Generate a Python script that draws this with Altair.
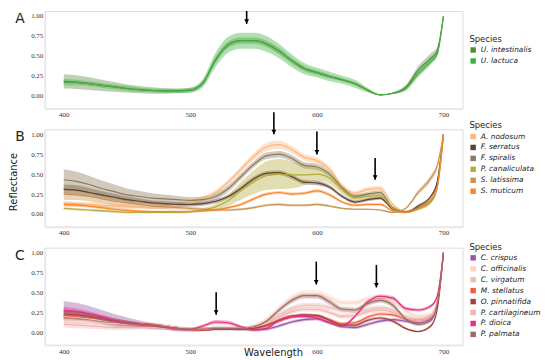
import altair as alt
import pandas as pd

WL = [400, 410, 420, 430, 440, 450, 460, 470, 480, 490, 500, 510, 520, 530, 540,
      550, 560, 570, 580, 590, 600, 610, 620, 630, 640, 650, 660, 670, 680, 690, 695, 700]
TICKS_X = [400, 500, 600, 700]
TICKS_Y = [0, 0.25, 0.5, 0.75, 1.0]

# ---------------- Panel A ----------------
A_SPECIES = ["U. intestinalis", "U. lactuca"]
A_COLORS = ["#5b8a3c", "#3fb03f"]
A_MEAN = {
    "U. intestinalis": [.18, .17, .15, .13, .11, .09, .075, .065, .06, .06, .07, .16, .45, .64, .69,
                        .69, .65, .56, .44, .34, .29, .24, .20, .15, .07, .01, .03, .10, .32, .47, .56, 1.0],
    "U. lactuca": [.17, .165, .15, .13, .11, .09, .075, .065, .06, .06, .07, .16, .45, .64, .69,
                   .69, .65, .56, .44, .34, .29, .24, .20, .15, .07, .01, .03, .09, .27, .43, .52, 1.0],
}
A_SD = {
    "U. intestinalis": [.09, .085, .08, .07, .06, .05, .045, .04, .035, .03, .03, .03, .04, .04, .04,
                        .04, .04, .04, .035, .03, .03, .025, .02, .02, .015, .005, .01, .03, .05, .06, .05, 0],
    "U. lactuca": [.04, .035, .03, .03, .03, .03, .025, .025, .025, .025, .03, .05, .09, .10, .10,
                   .10, .10, .09, .08, .07, .06, .06, .05, .05, .03, .005, .01, .03, .04, .04, .03, 0],
}
A_ARROWS_WL = [544.5]
A_ARROWS_TOP = [1.0625]
A_ARROWS_TIP = [0.90]

# ---------------- Panel B ----------------
B_SPECIES = ["A. nodosum", "F. serratus", "F. spiralis", "P. canaliculata", "S. latissima", "S. muticum"]
B_COLORS = ["#fcb57c", "#5e4233", "#8d7b58", "#b4ad3c", "#c8944f", "#f7862c"]
B_MEAN = {
    "A. nodosum": [.13, .125, .12, .11, .10, .09, .085, .085, .09, .11, .14, .19, .27, .40, .56,
                   .72, .84, .87, .81, .71, .67, .56, .35, .26, .31, .32, .12, .03, .10, .22, .38, 1.0],
    "F. serratus": [.31, .30, .27, .24, .21, .18, .16, .14, .13, .12, .12, .13, .16, .22, .32,
                    .44, .51, .52, .47, .40, .39, .34, .22, .15, .18, .20, .06, .02, .10, .22, .40, 1.0],
    "F. spiralis": [.43, .41, .37, .32, .28, .24, .22, .20, .19, .18, .17, .18, .22, .32, .47,
                    .62, .73, .75, .70, .61, .59, .50, .33, .22, .25, .27, .08, .03, .08, .17, .34, 1.0],
    "P. canaliculata": [.07, .06, .05, .04, .03, .02, .02, .02, .02, .02, .03, .05, .09, .17, .29,
                        .40, .48, .50, .49, .49, .50, .45, .30, .20, .22, .23, .07, .02, .06, .15, .32, 1.0],
    "S. latissima": [.25, .24, .22, .19, .16, .14, .12, .10, .09, .08, .07, .06, .05, .05, .06,
                     .08, .11, .12, .11, .11, .12, .10, .07, .06, .06, .05, .02, .07, .27, .45, .60, 1.0],
    "S. muticum": [.12, .115, .10, .08, .06, .045, .035, .03, .03, .03, .03, .04, .05, .08, .12,
                   .19, .25, .27, .25, .26, .29, .24, .15, .11, .12, .12, .04, .02, .07, .17, .34, 1.0],
}
B_SD = {
    "A. nodosum": [.03, .03, .03, .03, .03, .03, .025, .025, .025, .025, .025, .03, .03, .035, .04,
                   .045, .05, .05, .045, .04, .04, .035, .03, .03, .03, .03, .015, .01, .015, .02, .02, 0],
    "F. serratus": [.06, .06, .055, .05, .045, .04, .035, .03, .03, .03, .025, .025, .025, .025, .03,
                    .03, .03, .03, .03, .03, .03, .025, .02, .02, .02, .02, .01, .01, .015, .02, .02, 0],
    "F. spiralis": [.13, .12, .11, .10, .09, .08, .07, .06, .05, .045, .04, .04, .04, .04, .04,
                    .04, .04, .04, .04, .04, .04, .035, .03, .025, .025, .025, .015, .01, .015, .02, .02, 0],
    "P. canaliculata": [.015, .015, .015, .015, .015, .015, .015, .015, .015, .015, .02, .025, .04, .07, .11,
                        .15, .18, .19, .17, .13, .08, .07, .05, .04, .04, .04, .02, .01, .015, .02, .02, 0],
    "S. latissima": [.07, .065, .06, .055, .05, .045, .04, .035, .03, .025, .02, .02, .015, .015, .015,
                     .015, .015, .015, .015, .015, .015, .015, .01, .01, .01, .01, .01, .01, .03, .04, .04, 0],
    "S. muticum": [.025, .025, .02, .02, .02, .015, .015, .015, .015, .015, .01, .01, .015, .015, .02,
                   .02, .02, .02, .02, .02, .02, .02, .015, .015, .015, .015, .01, .01, .015, .02, .02, 0],
}
B_ARROWS_WL = [566, 600, 646]
B_ARROWS_TOP = [1.275, 1.034, 0.704]
B_ARROWS_TIP = [1.00, 0.746, 0.429]

# ---------------- Panel C ----------------
C_SPECIES = ["C. crispus", "C. officinalis", "C. virgatum", "M. stellatus", "O. pinnatifida",
             "P. cartilagineum", "P. dioica", "P. palmata"]
C_COLORS = ["#9c56a6", "#f8d6c4", "#e8c0b4", "#f3603f", "#a8403f", "#f5b2b0", "#e8307e", "#9f6a6a"]
C_MEAN = {
    "C. crispus": [.27, .26, .23, .19, .15, .12, .10, .08, .06, .04, .03, .04, .05, .05, .04,
                   .03, .04, .08, .13, .16, .17, .12, .07, .06, .10, .14, .16, .14, .12, .17, .35, 1.0],
    "C. officinalis": [.20, .19, .17, .15, .13, .11, .10, .09, .08, .06, .04, .04, .05, .05, .05,
                       .08, .16, .30, .43, .49, .49, .43, .37, .37, .42, .44, .39, .27, .20, .23, .40, 1.0],
    "C. virgatum": [.16, .15, .14, .12, .11, .10, .09, .08, .07, .05, .04, .04, .05, .05, .05,
                    .07, .12, .22, .30, .34, .34, .31, .27, .26, .29, .31, .28, .20, .16, .20, .38, 1.0],
    "M. stellatus": [.21, .20, .18, .16, .13, .11, .10, .09, .07, .05, .03, .03, .04, .04, .04,
                     .05, .08, .14, .19, .21, .21, .16, .11, .12, .19, .23, .22, .17, .15, .20, .36, 1.0],
    "O. pinnatifida": [.23, .22, .20, .17, .14, .12, .10, .09, .07, .05, .03, .03, .04, .04, .04,
                       .05, .09, .15, .20, .22, .21, .15, .09, .09, .15, .18, .14, .05, .01, .08, .28, 1.0],
    "P. cartilagineum": [.10, .09, .08, .07, .06, .06, .06, .06, .05, .04, .03, .04, .05, .05, .05,
                         .07, .11, .19, .26, .29, .29, .25, .20, .21, .26, .28, .25, .18, .15, .20, .38, 1.0],
    "P. dioica": [.28, .26, .23, .19, .15, .12, .10, .08, .06, .04, .04, .08, .13, .12, .07,
                  .03, .05, .15, .20, .20, .18, .12, .08, .20, .38, .45, .43, .30, .28, .33, .45, 1.0],
    "P. palmata": [.22, .21, .19, .16, .13, .11, .09, .08, .07, .05, .04, .04, .05, .05, .05,
                   .07, .14, .28, .40, .46, .46, .38, .29, .28, .36, .40, .34, .17, .10, .15, .35, 1.0],
}
C_SD = {
    "C. crispus": [.12, .11, .10, .09, .08, .065, .05, .04, .03, .025, .02, .02, .02, .02, .02,
                   .02, .02, .02, .02, .02, .02, .02, .02, .02, .02, .02, .02, .02, .02, .03, .03, 0],
    "C. officinalis": [.05, .05, .045, .04, .035, .03, .03, .03, .03, .025, .02, .02, .02, .02, .02,
                       .025, .03, .035, .04, .04, .04, .04, .035, .035, .035, .035, .03, .03, .03, .03, .03, 0],
    "C. virgatum": [.05, .045, .04, .035, .03, .03, .03, .03, .025, .02, .02, .02, .02, .02, .02,
                    .02, .025, .03, .03, .03, .03, .03, .03, .03, .03, .03, .03, .03, .03, .03, .03, 0],
    "M. stellatus": [.04, .04, .035, .03, .03, .025, .025, .02, .02, .02, .015, .015, .015, .015, .015,
                     .015, .02, .02, .02, .02, .02, .02, .02, .02, .02, .02, .02, .02, .02, .02, .02, 0],
    "O. pinnatifida": [.05, .05, .045, .04, .035, .03, .025, .02, .02, .02, .015, .015, .015, .015, .015,
                       .015, .02, .02, .02, .02, .02, .02, .02, .02, .02, .02, .02, .015, .01, .02, .02, 0],
    "P. cartilagineum": [.04, .04, .035, .03, .03, .03, .025, .025, .02, .02, .02, .02, .02, .02, .02,
                         .02, .02, .025, .03, .03, .03, .03, .03, .03, .03, .03, .03, .03, .03, .03, .03, 0],
    "P. dioica": [.04, .04, .035, .03, .03, .025, .025, .02, .02, .02, .015, .02, .025, .025, .02,
                  .015, .015, .02, .02, .02, .02, .02, .02, .02, .025, .025, .025, .02, .02, .02, .02, 0],
    "P. palmata": [.06, .055, .05, .045, .04, .035, .03, .03, .025, .02, .02, .02, .02, .02, .02,
                   .02, .025, .03, .035, .035, .035, .035, .03, .03, .03, .03, .03, .025, .02, .025, .025, 0],
}
C_ARROWS_WL = [520.4, 599.5, 647]
C_ARROWS_TOP = [0.504, 0.8875, 0.846]
C_ARROWS_TIP = [0.221, 0.60, 0.5625]

W, H = 420, 98
YDOM = [-0.16, 1.0625]
XDOM = [385, 715]


def long_frame(species, means, sds):
    rows = []
    for sp in species:
        for w, m, s in zip(WL, means[sp], sds[sp]):
            rows.append({"species": sp, "wl": w, "mean": m, "lo": m - s, "hi": m + s})
    return pd.DataFrame(rows)


def panel(species, colors, means, sds, letter, arr_wl, arr_top, arr_tip, legend_y, extra=None):
    df = long_frame(species, means, sds)
    xscale = alt.Scale(domain=XDOM, nice=False, zero=False)
    xaxis = alt.Axis(values=TICKS_X, title=None, labelFont="Liberation Serif",
                     labelFontSize=7, labelColor="#333", domainColor="#e8e8e8",
                     domainWidth=2, ticks=False, grid=False, labelPadding=2,
                     labelOverlap=False)
    yaxis = alt.Axis(values=TICKS_Y, format=".2f", title=None, labelFont="Liberation Serif",
                     labelFontSize=7, labelColor="#333", domainColor="#e8e8e8", domainWidth=2,
                     ticks=False, grid=False, labelPadding=2, labelOverlap=False,
                     labelBound=False, tickCount=5)
    yscale = alt.Scale(domain=YDOM, nice=False, zero=False)
    color = alt.Color("species:N", scale=alt.Scale(domain=species, range=colors),
                      legend=alt.Legend(title="Species", orient="none", legendX=427, legendY=legend_y,
                                        labelFontStyle="italic", labelFont="DejaVu Sans",
                                        labelFontSize=7.5, titleFont="DejaVu Sans", titleFontSize=8.5,
                                        titleFontWeight="normal", titleColor="#222", labelColor="#222",
                                        symbolType="square", symbolSize=30, symbolOpacity=1,
                                        symbolStrokeWidth=0, rowPadding=2, titlePadding=3))
    band = alt.Chart(df).mark_area(opacity=0.4, interpolate="monotone").encode(
        x=alt.X("wl:Q", scale=xscale, axis=xaxis),
        y=alt.Y("lo:Q", scale=yscale, axis=yaxis), y2="hi:Q", color=color)
    line = alt.Chart(df).mark_line(strokeWidth=1.2, interpolate="monotone").encode(
        x=alt.X("wl:Q", scale=xscale, axis=xaxis),
        y=alt.Y("mean:Q", scale=yscale, axis=yaxis), color=alt.Color("species:N"))
    adf = pd.DataFrame({"wl": arr_wl, "top": arr_top, "tip": arr_tip})
    rule = alt.Chart(adf).mark_rule(color="black", strokeWidth=1.6).encode(
        x="wl:Q", y="top:Q", y2="tip:Q")
    head = alt.Chart(adf).mark_point(shape="triangle-down", filled=True, size=24, color="black",
                                     opacity=1, yOffset=-2.5).encode(x="wl:Q", y="tip:Q")
    ltr = alt.Chart(pd.DataFrame({"t": [letter]})).mark_text(
        fontSize=14, font="DejaVu Sans", color="#222").encode(
        text="t:N", x=alt.value(-25), y=alt.value(8))
    layers = [band, line, rule, head, ltr]
    if extra is not None:
        layers += extra
    return alt.layer(*layers).properties(width=W, height=H)


refl = alt.Chart(pd.DataFrame({"t": ["Reflectance"]})).mark_text(
    fontSize=10, font="DejaVu Sans", color="#222", angle=270).encode(
    text="t:N", x=alt.value(-31), y=alt.value(53))
wave = alt.Chart(pd.DataFrame({"t": ["Wavelength"]})).mark_text(
    fontSize=10, font="DejaVu Sans", color="#222").encode(
    text="t:N", x=alt.value(230), y=alt.value(106))

pa = panel(A_SPECIES, A_COLORS, A_MEAN, A_SD, "A", A_ARROWS_WL, A_ARROWS_TOP, A_ARROWS_TIP, 24)
pb = panel(B_SPECIES, B_COLORS, B_MEAN, B_SD, "B", B_ARROWS_WL, B_ARROWS_TOP, B_ARROWS_TIP, -8, [refl])
pc = panel(C_SPECIES, C_COLORS, C_MEAN, C_SD, "C", C_ARROWS_WL, C_ARROWS_TOP, C_ARROWS_TIP, -5, [wave])

chart = alt.vconcat(pa, pb, pc, spacing=21, bounds="flush").resolve_scale(
    color="independent").resolve_legend(color="independent").properties(padding=0).configure_view(
    stroke=None).configure_axis(labelOverlap=False).configure(font="DejaVu Sans")

chart.save("out.html", embed_options={"renderer": "svg", "actions": False})
